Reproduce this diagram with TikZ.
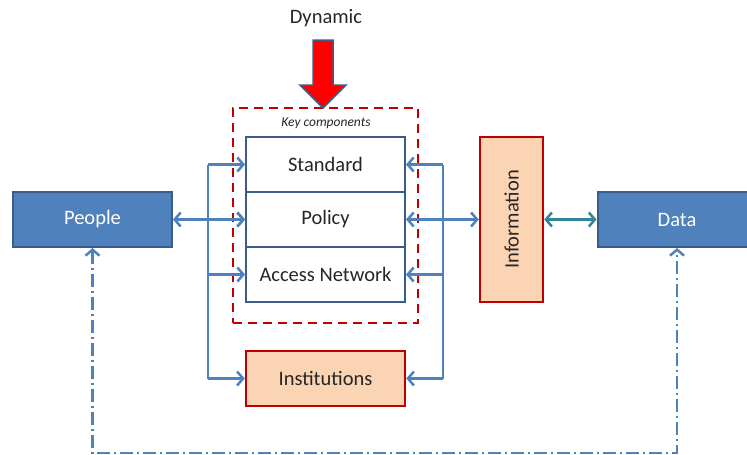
\documentclass[tikz,border=0pt]{standalone}
\usepackage{fontspec}
\setmainfont{Carlito}
\usetikzlibrary{arrows.meta}

\definecolor{boxblue}{HTML}{4F81BD}
\definecolor{edgeblue}{HTML}{385D8A}
\definecolor{linkblue}{HTML}{4F81BD}
\definecolor{boxred}{HTML}{C00000}
\definecolor{peach}{HTML}{FBD4B4}
\definecolor{linkteal}{HTML}{31859C}
\definecolor{darktext}{HTML}{262626}

\tikzset{
  bluebox/.style={draw=edgeblue, fill=boxblue, line width=2pt, text=white,
    minimum width=159pt, minimum height=55pt, inner sep=0pt},
  keybox/.style={draw=edgeblue, fill=white, line width=2pt, text=darktext,
    minimum width=159pt, minimum height=55pt, inner sep=0pt},
  peachbox/.style={draw=boxred, fill=peach, line width=2.5pt, text=darktext,
    minimum width=159pt, minimum height=55pt, inner sep=0pt},
  link/.style={draw=linkblue, line width=2.5pt},
  dashdot/.style={draw=linkblue, line width=2.5pt,
    dash pattern=on 13pt off 4pt on 2pt off 4pt}
}

\begin{document}
\begin{tikzpicture}[x=1pt, y=-1pt, >={Straight Barb[length=6pt,width=14pt]},
    font=\fontsize{20.5}{24}\selectfont]

    \useasboundingbox (0,0) rectangle (747,455);

    % The outer boxes
    \node [bluebox] (people) at (92.5, 219.5) {People};
    \node [bluebox] (data) at (677, 219.5) {Data};

    % Key components, stacked
    \node [keybox] (std) at (325.5, 164.5) {Standard};
    \node [keybox] (policy) at (325.5, 219.5) {Policy};
    \node [keybox] (access) at (325.5, 274.5) {Access Network};
    \node [draw=boxred, line width=2.5pt, dash pattern=on 9pt off 6pt,
      minimum width=185pt, minimum height=215pt] (keycomp) at (325.5, 215.5) {};
    \node [text=darktext, font=\fontsize{13.5}{15}\selectfont\itshape] (keylabel) at (326, 123) {Key components};

    % Information and Institutions
    \node [peachbox, rotate=90, minimum width=165pt, minimum height=63pt] (info) at (511.5, 219.5) {Information};
    \node [peachbox] (inst) at (325.5, 378.5) {Institutions};

    % The dynamic arrow on top
    \node [text=darktext] (dyn) at (326, 18) {Dynamic};
    \draw [fill=red, draw=edgeblue, line width=1.5pt]
      (313,40) -- (333,40) -- (333,85) -- (346,85) -- (323,108) -- (300,85) -- (313,85) -- cycle;

    % Buses on both sides
    \coordinate (lbus) at (208, 0);
    \coordinate (rbus) at (443, 0);
    \draw [link] (lbus |- std.west) -- (lbus |- inst.west);
    \draw [link] (rbus |- std.east) -- (rbus |- inst.east);
    \foreach \comp in {std, access, inst}
      \draw [link, ->] (lbus |- \comp.west) -- (\comp.west);
    \foreach \comp in {std, access, inst}
      \draw [link, ->] (rbus |- \comp.east) -- (\comp.east);
    \draw [link, ->] (lbus |- policy.west) -- (policy.west);

    % Links through the middle
    \draw [link, <->] (people) -- (policy);
    \draw [link, <->] (policy) -- (info);
    \draw [draw=linkteal, line width=2.5pt, <->] (info) -- (data);

    % Feedback along the bottom
    \draw [dashdot, <->] (people.south) -- ++(0, 205) -| (data.south);
  \end{tikzpicture}
\end{document}
